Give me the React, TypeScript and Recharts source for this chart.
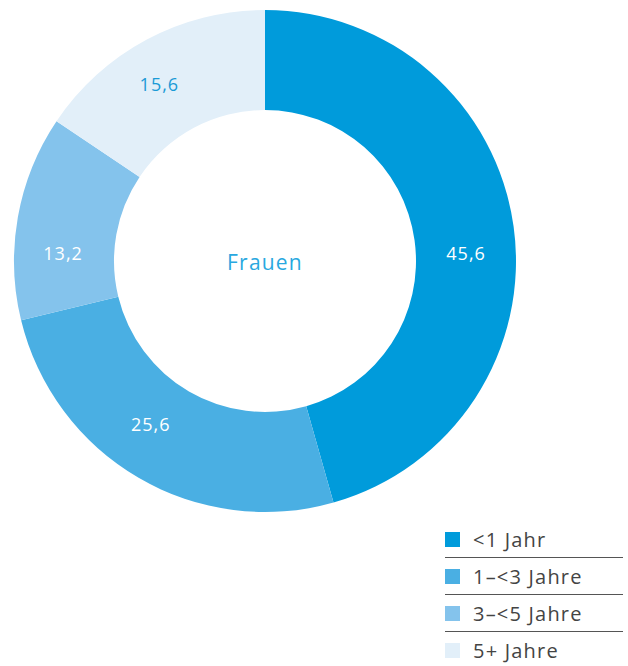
import React from 'react';
import { PieChart, Pie, Cell, Legend } from 'recharts';

const categories = ['<1 Jahr', '1–<3 Jahre', '3–<5 Jahre', '5+ Jahre'];
const values = [45.6, 25.6, 13.2, 15.6];
const valueLabels = ['45,6', '25,6', '13,2', '15,6'];
const centerLabel = 'Frauen';

const COLORS = ['#009bdb', '#4aafe3', '#84c3ec', '#e2eff9'];
const LABEL_COLORS = ['#ffffff', '#ffffff', '#ffffff', '#1a9ad6'];
const NUDGE = [
  [2, 20],
  [-13, -11],
  [-4, 27],
  [-11, 0],
];

const data = categories.map((name, i) => ({ name, value: values[i], label: valueLabels[i] }));

const FONT = '"Open Sans", "DejaVu Sans", sans-serif';

const RADIAN = Math.PI / 180;
const renderLabel = (props: any) => {
  const { cx, cy, midAngle, innerRadius, outerRadius, index } = props;
  const r = (innerRadius + outerRadius) / 2;
  const x = cx + r * Math.cos(-midAngle * RADIAN) + NUDGE[index][0];
  const y = cy + r * Math.sin(-midAngle * RADIAN) + NUDGE[index][1];
  return (
    <text
      x={x}
      y={y}
      fill={LABEL_COLORS[index]}
      textAnchor="middle"
      dominantBaseline="central"
      fontSize={18}
      fontFamily={FONT}
      letterSpacing={1}
    >
      {data[index].label}
    </text>
  );
};

const renderLegend = () => (
  <div style={{ width: 178, fontFamily: FONT }}>
    {data.map((d, i) => (
      <div
        key={d.name}
        style={{
          height: 37,
          boxSizing: 'border-box',
          borderBottom: i < data.length - 1 ? '1.5px solid #555' : 'none',
          display: 'flex',
          alignItems: 'center',
        }}
      >
        <span
          style={{
            display: 'inline-block',
            width: 15,
            height: 15,
            background: COLORS[i],
            marginRight: 13,
          }}
        />
        <span style={{ fontSize: 20, color: '#444', letterSpacing: 1.2 }}>{d.name}</span>
      </div>
    ))}
  </div>
);

export default function App() {
  return (
    <div style={{ position: 'absolute', left: 0, top: 0, width: 628, height: 666, background: '#fff' }}>
      <PieChart width={628} height={666} margin={{ top: 0, right: 0, bottom: 0, left: 0 }}>
        <Pie
          data={data}
          dataKey="value"
          nameKey="name"
          cx={265}
          cy={261}
          innerRadius={151}
          outerRadius={251}
          startAngle={90}
          endAngle={-270}
          stroke="none"
          label={renderLabel}
          labelLine={false}
          isAnimationActive={false}
        >
          {data.map((d, i) => (
            <Cell key={d.name} fill={COLORS[i]} />
          ))}
        </Pie>
        <text
          x={265}
          y={262}
          textAnchor="middle"
          dominantBaseline="central"
          fontSize={21}
          fill="#29a8e0"
          fontFamily={FONT}
          letterSpacing={1.2}
        >
          {centerLabel}
        </text>
        <Legend
          content={renderLegend}
          wrapperStyle={{ position: 'absolute', left: 445, top: 521, width: 178, bottom: 'auto' }}
        />
      </PieChart>
    </div>
  );
}
